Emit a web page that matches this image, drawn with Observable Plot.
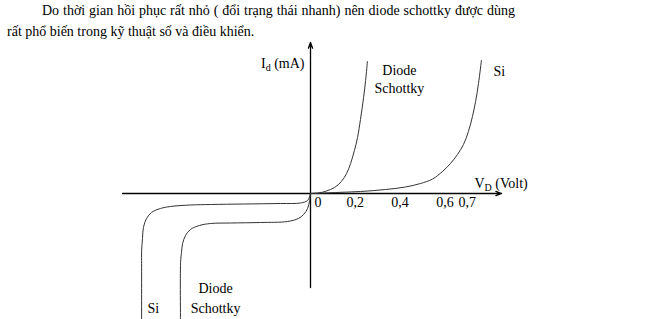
<!DOCTYPE html>
<html>
<head>
<meta charset="utf-8">
<script src="https://cdn.jsdelivr.net/npm/d3@7"></script>
<script src="https://cdn.jsdelivr.net/npm/@observablehq/plot@0.6"></script>
<style>
  body { margin: 0; background: #fff; }
  #intro {
    font-family: "Liberation Serif", "Times New Roman", Times, serif;
    font-size: 14px; line-height: 21px; height: 40px; color: #000;
    padding-left: 7px;
  }
  #intro .first { text-indent: 35px; width: 508px; text-align: justify; text-align-last: justify; }
  #chart svg { display: block; }
  #chart svg text { font-family: "Liberation Serif", "Times New Roman", Times, serif; }
</style>
</head>
<body>
<div id="intro">
  <div class="first">Do thời gian hồi phục rất nhỏ ( đổi trạng thái nhanh) nên diode schottky được dùng</div>
  <div>rất phổ biến trong kỹ thuật số và điều khiển.</div>
</div>
<div id="chart"></div>
<script>
// Forward characteristic, Schottky diode (V in volts, I in mA, schematic)
const schottkyFwdV = [0, 0.036, 0.071, 0.107, 0.138, 0.161, 0.179, 0.196, 0.210, 0.223, 0.237, 0.246, 0.254];
const schottkyFwdI = [0, 0.05, 0.25, 0.6, 1.2, 2.0, 3.0, 4.3, 5.6, 7.4, 9.6, 11.3, 13.2];

// Forward characteristic, silicon diode
const siFwdV = [0, 0.112, 0.223, 0.335, 0.424, 0.491, 0.545, 0.589, 0.625, 0.656, 0.683, 0.705, 0.723, 0.737, 0.750, 0.763];
const siFwdI = [0, 0.1, 0.2, 0.4, 0.65, 1.0, 1.45, 2.2, 3.0, 3.9, 4.9, 6.2, 7.7, 9.2, 11.0, 13.3];

// Reverse characteristic (leakage then breakdown), silicon diode
const siRevV = [0, -0.013, -0.045, -0.134, -0.299, -0.446, -0.536, -0.625, -0.670, -0.710, -0.732, -0.746, -0.750, -0.754, -0.754, -0.754];
const siRevI = [0, -0.7, -0.95, -1.0, -1.05, -1.1, -1.15, -1.3, -1.5, -1.9, -2.5, -3.4, -4.5, -5.7, -6.7, -13.7];

// Reverse characteristic, Schottky diode
const schottkyRevV = [0, -0.004, -0.013, -0.031, -0.054, -0.103, -0.223, -0.357, -0.446, -0.496, -0.536, -0.558, -0.571, -0.576, -0.580, -0.580];
const schottkyRevI = [0, -0.7, -1.5, -2.1, -2.5, -2.8, -2.9, -2.95, -3.0, -3.2, -3.6, -4.2, -5.0, -5.9, -6.9, -13.7];

// Voltage tick labels on the horizontal axis
const tickValues = [0, 0.2, 0.4, 0.6, 0.7];
const tickLabels = ["0", "0,2", "0,4", "0,6", "0,7"];

// Axis extents
const axisV = [-0.839, 0.853];
const axisI = [-9.4, 15.1];

// Curve annotations ("_" marks a subscript letter)
const labelText = ["I_d (mA)", "V_D (Volt)", "Diode", "Schottky", "Si", "Si", "Diode", "Schottky"];
const labelV    = [-0.027, 0.732, 0.397, 0.397, 0.817, -0.728, -0.424, -0.424];
const labelI    = [12.6, 0.6, 11.9, 10.1, 11.8, -11.9, -9.9, -11.9];
const labelAnchor = ["end", "start", "middle", "middle", "start", "start", "middle", "middle"];

const series = [
  ["Schottky forward", schottkyFwdV, schottkyFwdI],
  ["Si forward", siFwdV, siFwdI],
  ["Si reverse", siRevV, siRevI],
  ["Schottky reverse", schottkyRevV, schottkyRevI]
];
const curves = series.flatMap(([name, V, I]) => V.map((v, i) => ({name, v, i: I[i]})));
const labels = labelText.map((text, k) => ({text, v: labelV[k], i: labelI[k], anchor: labelAnchor[k]}));
const ticks = tickValues.map((v, k) => ({v, text: tickLabels[k]}));

const font = "Liberation Serif, Times New Roman, Times, serif";

const chart = Plot.plot({
  width: 661,
  height: 279,
  margin: 0,
  x: {domain: [-1.384, 1.567], axis: null},
  y: {domain: [-12.6, 15.3], axis: null},
  style: {fontFamily: font, color: "#000", background: "#fff"},
  marks: [
    Plot.arrow([{}], {x1: axisV[0], x2: axisV[1], y1: 0, y2: 0, stroke: "#000", strokeWidth: 1.3, headLength: 7, headAngle: 40}),
    Plot.arrow([{}], {x1: 0, x2: 0, y1: axisI[0], y2: axisI[1], stroke: "#000", strokeWidth: 1.3, headLength: 7, headAngle: 40}),
    Plot.line(curves, {x: "v", y: "i", z: "name", curve: "catmull-rom", stroke: "#333", strokeWidth: 1, clip: true}),
    Plot.text(ticks.filter(d => d.v === 0), {x: "v", y: -1.3, text: "text", textAnchor: "start", lineAnchor: "bottom", dx: 4, fontSize: 14}),
    Plot.text(ticks.filter(d => d.v !== 0), {x: "v", y: -1.3, text: "text", textAnchor: "middle", lineAnchor: "bottom", fontSize: 14}),
    ...["start", "middle", "end"].map(a =>
      Plot.text(labels.filter(d => d.anchor === a), {x: "v", y: "i", text: "text", textAnchor: a, lineAnchor: "bottom", fontSize: 14}))
  ]
});

// Turn "X_s rest" into X with a lowered, smaller subscript s
const ns = "http://www.w3.org/2000/svg";
chart.querySelectorAll("text").forEach(t => {
  const m = t.textContent.match(/^(.*?)_(\w)(.*)$/);
  if (!m) return;
  t.textContent = "";
  const base = document.createElementNS(ns, "tspan");
  base.textContent = m[1];
  const sub = document.createElementNS(ns, "tspan");
  sub.textContent = m[2];
  sub.setAttribute("font-size", "10");
  sub.setAttribute("dy", "3");
  const rest = document.createElementNS(ns, "tspan");
  rest.textContent = m[3];
  rest.setAttribute("dy", "-3");
  t.append(base, sub, rest);
});

document.getElementById("chart").append(chart);
</script>
</body>
</html>
